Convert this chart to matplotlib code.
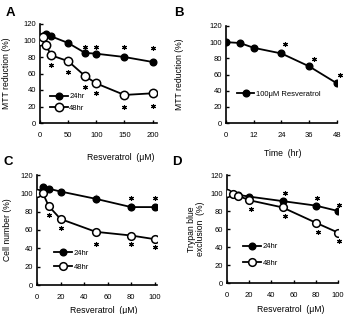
import numpy as np
import matplotlib
matplotlib.use("Agg")
import matplotlib.pyplot as plt

plt.rcParams['font.family'] = ['Liberation Sans', 'DejaVu Sans']

# panel A: MTT vs resveratrol dose
a_dose = [0, 5, 10, 20, 50, 80, 100, 150, 200]
a_24 = [100, 106, 108, 105, 97, 85, 84, 80, 74]
a_48 = [100, 104, 95, 82, 75, 57, 48, 34, 36]
a_star_x = [80, 100, 150, 200, 20, 50, 80, 100, 150, 200]
a_star_y = [92, 92, 92, 91, 70, 62, 44, 36, 19, 21]

# panel B: MTT vs time at 100 uM
b_time = [0, 6, 12, 24, 36, 48]
b_val = [100, 99, 93, 86, 70, 49]
b_star_x = [25.5, 38, 49.5]
b_star_y = [98, 79, 59]

# panel C: cell number
c_dose = [0, 5, 10, 20, 50, 80, 100]
c_24 = [100, 107, 105, 102, 94, 85, 85]
c_48 = [100, 100, 86, 72, 58, 54, 50]
c_24_err = [0, 3, 3, 2, 5, 4, 3]
c_star_x = [80, 100, 10, 20, 50, 80, 100]
c_star_y = [95, 95, 76, 62, 45, 45, 41]

# panel D: trypan blue exclusion
d_dose_24 = [0, 5, 10, 20, 50, 80, 100]
d_24 = [100, 99, 98, 96, 91, 86, 80]
d_dose_48 = [0, 5, 10, 20, 50, 80, 100]
d_48 = [100, 99, 97, 92, 84, 67, 56]
d_star_x = [52, 81, 101, 22, 52, 82, 101]
d_star_y = [100, 94, 87, 82, 74, 57, 47]

W, H = 346, 314
fig = plt.figure(figsize=(W / 100, H / 100), dpi=100)


def px_axes(l, r, t, b):
    return fig.add_axes([l / W, 1 - b / H, (r - l) / W, (b - t) / H])


def style(ax, xlim, xticks):
    ax.set_xlim(*xlim)
    ax.set_ylim(0, 120)
    ax.set_xticks(xticks)
    ax.set_yticks(range(0, 121, 20))
    for s in ['top', 'right']:
        ax.spines[s].set_visible(False)
    for s in ['left', 'bottom']:
        ax.spines[s].set_linewidth(1.2)
    ax.tick_params(direction='in', length=2.5, width=1, labelsize=5.5)
    ax.tick_params(axis='x', pad=6.5)
    ax.tick_params(axis='y', pad=3)


def filled(ax, x, y, label):
    ax.plot(x, y, '-o', color='black', lw=1.3, ms=4.8, label=label, zorder=3)


def hollow(ax, x, y, label, ms=5.5):
    ax.plot(x, y, '-o', color='black', lw=1.3, ms=ms, mfc='white', mew=1.1,
            label=label, zorder=4)


def stars(ax, x, y):
    ax.plot(x, y, ls='none', marker=(6, 2, 0), color='black', ms=3.5, mew=0.8,
            zorder=5, clip_on=False)


lab_fs = 6.2

# A
axA = px_axes(40, 157, 24, 123)
style(axA, (0, 208), [0, 50, 100, 150, 200])
filled(axA, a_dose, a_24, '24hr')
hollow(axA, a_dose, a_48, '48hr', ms=6)
stars(axA, a_star_x, a_star_y)
axA.set_ylabel('MTT reduction (%)', fontsize=lab_fs)
axA.yaxis.set_label_coords(-0.25, 0.5)
axA.set_xlabel('Resveratrol  (μM)', fontsize=lab_fs)
axA.xaxis.set_label_coords(0.69, -0.3)
axA.legend(loc='lower left', bbox_to_anchor=(0.06, 0.08), frameon=False,
           fontsize=5.5, handlelength=2.3, handletextpad=0.2,
           labelspacing=0.55, borderaxespad=0, numpoints=1)

# B
axB = px_axes(226, 337, 26, 123)
style(axB, (0, 48), [0, 12, 24, 36, 48])
filled(axB, b_time, b_val, '100μM Resveratrol')
stars(axB, b_star_x, b_star_y)
axB.set_ylabel('MTT reduction (%)', fontsize=lab_fs)
axB.yaxis.set_label_coords(-0.38, 0.5)
axB.set_xlabel('Time  (hr)', fontsize=lab_fs)
axB.xaxis.set_label_coords(0.51, -0.27)
axB.legend(loc='lower left', bbox_to_anchor=(0.07, 0.23), frameon=False,
           fontsize=5.5, handlelength=2.3, handletextpad=0.2,
           borderaxespad=0, numpoints=1)

# C
axC = px_axes(37, 157, 175, 285)
style(axC, (0, 102), [0, 20, 40, 60, 80, 100])
axC.errorbar(c_dose, c_24, yerr=c_24_err, fmt='none', ecolor='#bbbbbb',
             elinewidth=0.8, capsize=0, zorder=2)
filled(axC, c_dose, c_24, '24hr')
hollow(axC, c_dose, c_48, '48hr')
stars(axC, c_star_x, c_star_y)
axC.set_ylabel('Cell number (%)', fontsize=lab_fs)
axC.yaxis.set_label_coords(-0.21, 0.5)
axC.set_xlabel('Resveratrol  (μM)', fontsize=lab_fs)
axC.xaxis.set_label_coords(0.56, -0.19)
axC.legend(loc='lower left', bbox_to_anchor=(0.12, 0.1), frameon=False,
           fontsize=5.5, handlelength=2.3, handletextpad=0.2,
           labelspacing=0.9, borderaxespad=0, numpoints=1)

# D
axD = px_axes(227, 338, 175, 283)
style(axD, (0, 100), [0, 20, 40, 60, 80, 100])
filled(axD, d_dose_24, d_24, '24hr')
hollow(axD, d_dose_48, d_48, '48hr')
stars(axD, d_star_x, d_star_y)
axD.set_ylabel('Trypan blue\nexclusion  (%)', fontsize=lab_fs, linespacing=1.0)
axD.yaxis.set_label_coords(-0.2, 0.5)
axD.set_xlabel('Resveratrol  (μM)', fontsize=lab_fs)
axD.xaxis.set_label_coords(0.57, -0.205)
axD.legend(loc='lower left', bbox_to_anchor=(0.12, 0.12), frameon=False,
           fontsize=5.5, handlelength=2.3, handletextpad=0.2,
           labelspacing=1.2, borderaxespad=0, numpoints=1)

for lab, x, y in [('A', 10, 13), ('B', 179, 13), ('C', 8, 162), ('D', 177, 162)]:
    fig.text(x / W, 1 - y / H, lab, fontsize=9.5, fontweight='bold',
             ha='center', va='center')

fig.savefig('out.png', dpi=100)
